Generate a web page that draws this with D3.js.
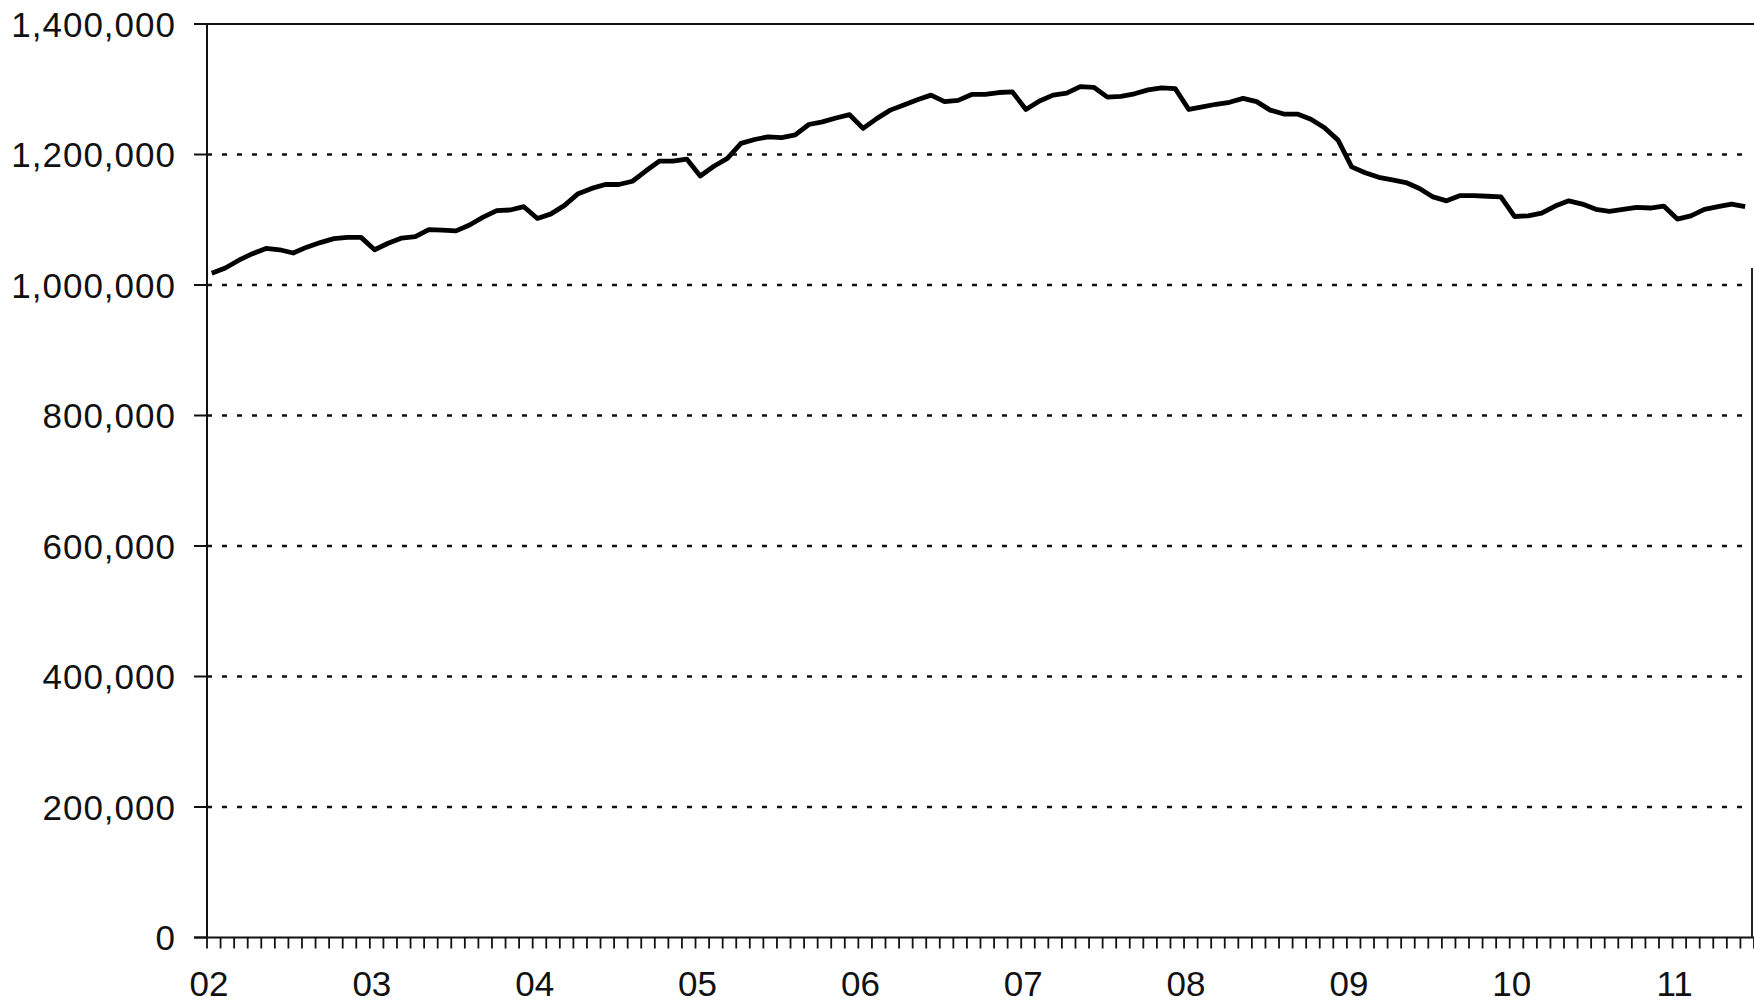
<!DOCTYPE html>
<html>
<head>
<meta charset="utf-8">
<script src="https://cdn.jsdelivr.net/npm/d3@7"></script>
<style>
  body { margin: 0; background: #fff; }
  svg { display: block; }
  .lbl { font-family: "Liberation Sans", Arial, sans-serif; font-size: 35px; fill: #111; }
  .ylbl { letter-spacing: 1px; }
</style>
</head>
<body>
<svg id="chart" width="1754" height="1003"></svg>
<script>
// monthly values, Jan 2002 .. Jun 2011
const values = [
  1018000, 1026000, 1038000, 1048000, 1056000, 1054000, 1049000, 1058000, 1065000, 1071000, 1073000, 1073000,
  1054000, 1064000, 1072000, 1074000, 1085000, 1084000, 1083000, 1092000, 1104000, 1114000, 1115000, 1120000,
  1102000, 1109000, 1122000, 1140000, 1148000, 1154000, 1154000, 1159000, 1175000, 1190000, 1190000, 1193000,
  1167000, 1182000, 1194000, 1217000, 1223000, 1227000, 1226000, 1230000, 1246000, 1250000, 1256000, 1261000,
  1240000, 1255000, 1268000, 1276000, 1284000, 1291000, 1281000, 1283000, 1292000, 1292000, 1295000, 1296000,
  1269000, 1282000, 1291000, 1294000, 1304000, 1303000, 1288000, 1289000, 1293000, 1299000, 1302000, 1301000,
  1269000, 1273000, 1277000, 1280000, 1286000, 1281000, 1268000, 1262000, 1262000, 1254000, 1241000, 1222000,
  1181000, 1172000, 1165000, 1161000, 1157000, 1148000, 1135000, 1129000, 1137000, 1137000, 1136000, 1135000,
  1105000, 1106000, 1110000, 1121000, 1129000, 1124000, 1116000, 1113000, 1116000, 1119000, 1118000, 1121000,
  1101000, 1106000, 1116000, 1120000, 1124000, 1120000
];
const yearLabels = ['02', '03', '04', '05', '06', '07', '08', '09', '10', '11'];
const yTicks = [0, 200000, 400000, 600000, 800000, 1000000, 1200000, 1400000];

const totalMonths = 114;
const plotLeft = 207, plotTop = 24, plotBottom = 937.5;

const svg = d3.select('#chart');

const x = d3.scaleLinear().domain([0, totalMonths]).range([plotLeft, plotLeft + totalMonths * 13.57]);
const y = d3.scaleLinear().domain([0, 1400000]).range([plotBottom, plotTop]);

const fmt = d3.format(',');

// dotted gridlines
svg.append('g')
  .selectAll('line')
  .data(yTicks.filter(d => d > 0 && d < 1400000))
  .enter()
  .append('line')
  .attr('x1', plotLeft)
  .attr('x2', 1745)
  .attr('y1', d => y(d))
  .attr('y2', d => y(d))
  .attr('stroke', '#111')
  .attr('stroke-width', 2.6)
  .attr('stroke-dasharray', '5,10');

// y axis ticks + labels
const yAxis = svg.append('g');
yAxis.selectAll('line')
  .data(yTicks)
  .enter()
  .append('line')
  .attr('x1', plotLeft - 13)
  .attr('x2', plotLeft)
  .attr('y1', d => y(d))
  .attr('y2', d => y(d))
  .attr('stroke', '#111')
  .attr('stroke-width', 2);
yAxis.selectAll('text')
  .data(yTicks)
  .enter()
  .append('text')
  .classed('lbl', true)
  .classed('ylbl', true)
  .attr('x', 176)
  .attr('y', d => y(d) + 12.5)
  .attr('text-anchor', 'end')
  .text(d => fmt(d));

// frame: left axis, top line, bottom axis, right edge
svg.append('line')
  .attr('x1', plotLeft).attr('x2', plotLeft)
  .attr('y1', y(1400000)).attr('y2', y(0))
  .attr('stroke', '#111').attr('stroke-width', 2);
svg.append('line')
  .attr('x1', plotLeft - 13).attr('x2', 1754)
  .attr('y1', y(1400000)).attr('y2', y(1400000))
  .attr('stroke', '#111').attr('stroke-width', 2);
svg.append('line')
  .attr('x1', plotLeft - 13).attr('x2', 1754)
  .attr('y1', y(0)).attr('y2', y(0))
  .attr('stroke', '#111').attr('stroke-width', 2);
svg.append('line')
  .attr('x1', 1752).attr('x2', 1752)
  .attr('y1', 268).attr('y2', y(0))
  .attr('stroke', '#222').attr('stroke-width', 2);

// month ticks under x axis
svg.append('g')
  .selectAll('line')
  .data(d3.range(totalMonths + 1))
  .enter()
  .append('line')
  .attr('x1', d => x(d))
  .attr('x2', d => x(d))
  .attr('y1', y(0))
  .attr('y2', y(0) + 11)
  .attr('stroke', '#111')
  .attr('stroke-width', 1.8);

// year labels
svg.append('g')
  .selectAll('text')
  .data(yearLabels)
  .enter()
  .append('text')
  .classed('lbl', true)
  .attr('x', (d, i) => x(i * 12 + 0.15))
  .attr('y', 996)
  .attr('text-anchor', 'middle')
  .text(d => d);

// the series line
const line = d3.line()
  .x((d, i) => x(i + 0.35))
  .y(d => y(d));

svg.append('path')
  .datum(values)
  .attr('d', line)
  .attr('fill', 'none')
  .attr('stroke', '#000')
  .attr('stroke-width', 4.8)
  .attr('stroke-linejoin', 'round');
</script>
</body>
</html>
